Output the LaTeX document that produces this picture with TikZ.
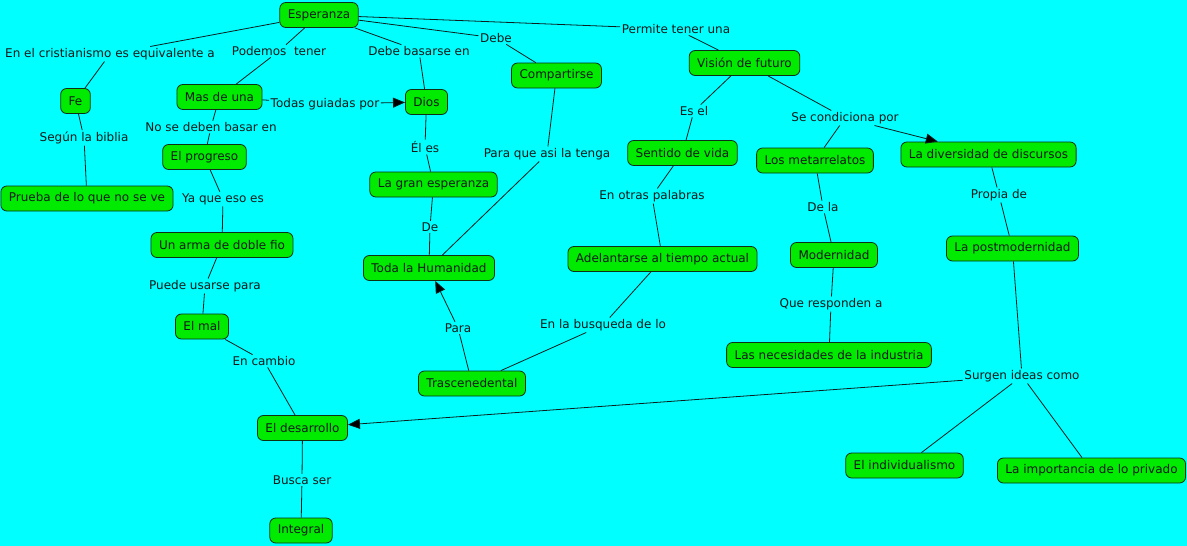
\documentclass[tikz,border=0pt]{standalone}
\usepackage{fontspec}
\setmainfont{DejaVu Sans}
\usetikzlibrary{arrows.meta}
\definecolor{bg}{RGB}{0,255,255}
\definecolor{nodefill}{RGB}{0,235,0}
\definecolor{ink}{RGB}{15,25,25}
\definecolor{linec}{RGB}{10,30,30}
\begin{document}
\begin{tikzpicture}[x=1pt,y=-1pt,
  concept/.style={draw=ink!90!green, line width=0.8pt, fill=nodefill, rounded corners=6pt,
    minimum height=25pt, inner xsep=8pt, inner ysep=3pt, font=\fontsize{12}{14}\selectfont, text=ink},
  phrase/.style={fill=bg, inner sep=1.5pt, font=\fontsize{12}{14}\selectfont, text=ink},
  conn/.style={draw=linec, line width=0.8pt},
  arr/.style={conn, -{Triangle[length=12pt,width=10pt,fill=black]}}]
\useasboundingbox (0,0) rectangle (1187,546);
\fill[bg] (0,0) rectangle (1187,546);

% concepts
\node[concept] (esp) at (319,15) {Esperanza};
\node[concept] (fe) at (75.5,101) {Fe};
\node[concept] (mas) at (219.5,97) {Mas de una};
\node[concept] (dios) at (426.5,102) {Dios};
\node[concept] (comp) at (556.5,75.5) {Compartirse};
\node[concept] (vis) at (744.5,63) {Visión de futuro};
\node[concept] (prog) at (204.5,157) {El progreso};
\node[concept] (prueba) at (87,198.5) {Prueba de lo que no se ve};
\node[concept] (gran) at (433.5,184.5) {La gran esperanza};
\node[concept] (sent) at (682.5,153) {Sentido de vida};
\node[concept] (meta) at (815,160.5) {Los metarrelatos};
\node[concept] (div) at (988.5,154.5) {La diversidad de discursos};
\node[concept] (arma) at (222,245) {Un arma de doble fio};
\node[concept] (hum) at (429,268) {Toda la Humanidad};
\node[concept] (adel) at (662.5,259) {Adelantarse al tiempo actual};
\node[concept] (mod) at (834,255) {Modernidad};
\node[concept] (post) at (1012.5,248.5) {La postmodernidad};
\node[concept] (mal) at (202,326.5) {El mal};
\node[concept] (nec) at (829,355) {Las necesidades de la industria};
\node[concept] (tras) at (472,383.5) {Trascenedental};
\node[concept] (des) at (302.5,428) {El desarrollo};
\node[concept] (indiv) at (904.5,465.5) {El individualismo};
\node[concept] (priv) at (1091.5,470.5) {La importancia de lo privado};
\node[concept] (integ) at (301,530.5) {Integral};

% linking phrases
\node[phrase] (l1) at (110,54) {En el cristianismo es equivalente a};
\node[phrase] (l2) at (279,51) {Podemos\ \ tener};
\node[phrase] (l3) at (419,51) {Debe basarse en};
\node[phrase] (l4) at (496,38) {Debe};
\node[phrase] (l5) at (676,29) {Permite tener una};
\node[phrase] (l6) at (325,104) {Todas guiadas por};
\node[phrase] (l7) at (84,138) {Según la biblia};
\node[phrase] (l8) at (211,127) {No se deben basar en};
\node[phrase] (l9) at (694,111) {Es el};
\node[phrase] (l10) at (845,118) {Se condiciona por};
\node[phrase] (l11) at (425,147) {Él es};
\node[phrase] (l12) at (547,154) {Para que asi la tenga};
\node[phrase] (l13) at (652,196) {En otras palabras};
\node[phrase] (l14) at (999,195) {Propia de};
\node[phrase] (l15) at (823,207) {De la};
\node[phrase] (l16) at (223,199) {Ya que eso es};
\node[phrase] (l17) at (430,227) {De};
\node[phrase] (l18) at (205,286) {Puede usarse para};
\node[phrase] (l19) at (831,304) {Que responden a};
\node[phrase] (l20) at (603,325) {En la busqueda de lo};
\node[phrase] (l21) at (458,328) {Para};
\node[phrase] (l22) at (264,361) {En cambio};
\node[phrase] (l23) at (1022,376) {Surgen ideas como};
\node[phrase] (l24) at (302,480) {Busca ser};

% connectors
\draw[conn] (esp) -- (l1) -- (fe);
\draw[conn] (esp) -- (l2) -- (mas);
\draw[conn] (esp) -- (l3) -- (dios);
\draw[conn] (esp) -- (l4) -- (comp);
\draw[conn] (esp) -- (l5) -- (vis);
\draw[conn] (mas) -- (l6);
\draw[arr] (l6) -- (dios);
\draw[conn] (fe) -- (l7) -- (prueba);
\draw[conn] (mas) -- (l8) -- (prog);
\draw[conn] (prog) -- (l16) -- (arma);
\draw[conn] (arma) -- (l18) -- (mal);
\draw[conn] (mal) -- (l22) -- (des);
\draw[conn] (des) -- (l24) -- (integ);
\draw[conn] (dios) -- (l11) -- (gran);
\draw[conn] (gran) -- (l17) -- (hum);
\draw[conn] (comp) -- (l12) -- (hum);
\draw[conn] (tras) -- (l21);
\draw[arr] (l21) -- (hum);
\draw[conn] (vis) -- (l9) -- (sent);
\draw[conn] (sent) -- (l13) -- (adel);
\draw[conn] (adel) -- (l20) -- (tras);
\draw[conn] (vis) -- (l10) -- (meta);
\draw[arr] (l10) -- (div);
\draw[conn] (meta) -- (l15) -- (mod);
\draw[conn] (mod) -- (l19) -- (nec);
\draw[conn] (div) -- (l14) -- (post);
\draw[conn] (post) -- (l23) -- (indiv);
\draw[conn] (l23) -- (priv);
\draw[arr] (l23) -- (des);
\end{tikzpicture}
\end{document}
